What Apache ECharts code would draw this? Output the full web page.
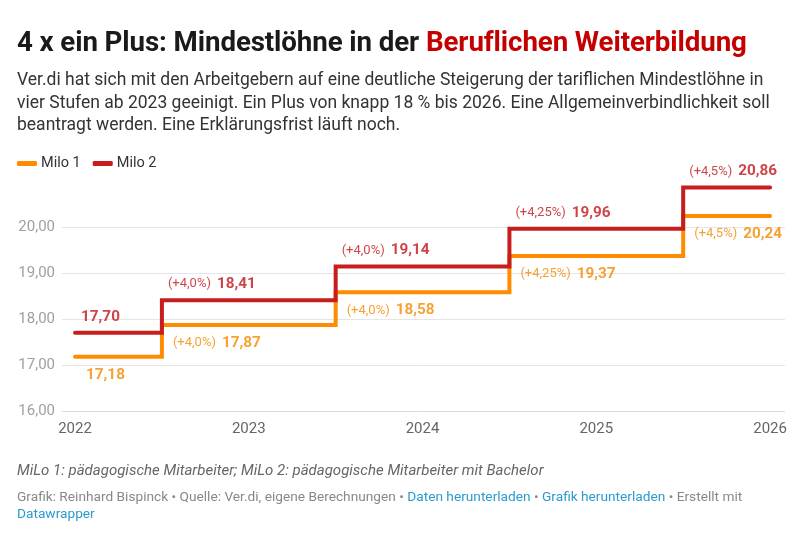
<!DOCTYPE html>
<html>
<head>
<meta charset="utf-8">
<script src="https://cdn.jsdelivr.net/npm/echarts@6/dist/echarts.min.js"></script>
<style>
  html, body { margin: 0; padding: 0; background: #fff; }
  body { width: 810px; height: 535px; position: relative; overflow: hidden; font-family: Roboto, "Noto Sans", sans-serif; }
  #chart { position: absolute; left: 0; top: 0; width: 810px; height: 535px; }
  .t { position: absolute; left: 17px; white-space: nowrap; }
  #title { top: 25px; font-size: 27.7px; font-weight: 700; color: #1a1a1a; line-height: 34px; letter-spacing: -0.1px; }
  #title span { color: #c40000; }
  #desc { top: 68px; font-size: 17.5px; color: #333; line-height: 22.5px; }
  #note { top: 461px; font-size: 15px; font-style: italic; color: #666; line-height: 19px; }
  #src { top: 488px; font-size: 13.7px; color: #888; line-height: 17px; }
  #src a { color: #2a9bcd; text-decoration: none; }
</style>
</head>
<body>
<div id="chart"></div>
<div class="t" id="title">4 x ein Plus: Mindestlöhne in der <span>Beruflichen Weiterbildung</span></div>
<div class="t" id="desc">Ver.di hat sich mit den Arbeitgebern auf eine deutliche Steigerung der tariflichen Mindestlöhne in<br>vier Stufen ab 2023 geeinigt. Ein Plus von knapp 18 % bis 2026. Eine Allgemeinverbindlichkeit soll<br>beantragt werden. Eine Erklärungsfrist läuft noch.</div>
<div class="t" id="note">MiLo 1: pädagogische Mitarbeiter; MiLo 2: pädagogische Mitarbeiter mit Bachelor</div>
<div class="t" id="src">Grafik: Reinhard Bispinck • Quelle: Ver.di, eigene Berechnungen • <a>Daten herunterladen</a> • <a>Grafik herunterladen</a> • Erstellt mit<br><a>Datawrapper</a></div>
<script>
const years = [2022, 2023, 2024, 2025, 2026];
const milo1 = [17.18, 17.87, 18.58, 19.37, 20.24];
const milo2 = [17.70, 18.41, 19.14, 19.96, 20.86];
const pct1 = ['', '(+4,0%)', '(+4,0%)', '(+4,25%)', '(+4,5%)'];
const pct2 = ['', '(+4,0%)', '(+4,0%)', '(+4,25%)', '(+4,5%)'];
const yTicks = [16, 17, 18, 19, 20];
const seriesNames = ['Milo 1', 'Milo 2'];

const ORANGE = '#ff8c00';
const RED = '#c71e1d';
const fmt = v => v.toFixed(2).replace('.', ',');

function labelData(vals, pcts) {
  return vals.map((v, i) => ({
    value: [i === 0 ? years[i] : years[i] - 0.5, v],
    pct: pcts[i]
  }));
}
function labelSeries(vals, pcts, color, pctColor, dx, dy) {
  return {
    type: 'scatter',
    data: labelData(vals, pcts),
    symbolSize: 0,
    silent: true,
    z: 5,
    label: {
      show: true,
      position: 'right',
      distance: 0,
      offset: [dx, dy],
      formatter: p => (p.data.pct ? '{p|' + p.data.pct + '}  ' : '') + '{v|' + fmt(p.data.value[1]) + '}',
      rich: {
        p: { fontSize: 13, color: pctColor, fontFamily: 'Roboto' },
        v: { fontSize: 15.3, fontWeight: 'bold', color: color, fontFamily: 'Roboto' }
      }
    },
    tooltip: { show: false }
  };
}

const chart = echarts.init(document.getElementById('chart'), null, { renderer: 'canvas' });
chart.setOption({
  animation: false,
  textStyle: { fontFamily: 'Roboto' },
  legend: {
    data: seriesNames,
    left: 12,
    top: 151,
    icon: 'roundRect',
    itemWidth: 20,
    itemHeight: 5,
    itemGap: 12,
    textStyle: { fontSize: 14.5, color: '#333', fontFamily: 'Roboto', padding: [0, 0, 0, -1] }
  },
  grid: { left: 62, right: 25, top: 181, bottom: 124, containLabel: false },
  xAxis: {
    type: 'value',
    min: 2021.925,
    max: 2026.086,
    axisLine: { show: false },
    axisTick: { show: false },
    splitLine: { show: false },
    axisLabel: {
      customValues: years,
      formatter: v => String(v),
      color: '#666',
      fontSize: 15,
      margin: 11,
      fontFamily: 'Roboto'
    }
  },
  yAxis: {
    type: 'value',
    min: 16,
    max: 21,
    interval: 1,
    axisLine: { show: false },
    axisTick: { show: false },
    axisLabel: {
      customValues: yTicks,
      formatter: v => fmt(v),
      color: '#a0a0a0',
      fontSize: 15,
      margin: 7,
      fontFamily: 'Roboto'
    },
    splitLine: {
      lineStyle: { color: ['#d9d9d9', '#e5e5e5', '#e5e5e5', '#e5e5e5', '#e5e5e5', 'rgba(0,0,0,0)'], width: 1 }
    }
  },
  series: [
    {
      name: seriesNames[0],
      type: 'line',
      step: 'middle',
      data: years.map((y, i) => [y, milo1[i]]),
      showSymbol: false,
      color: ORANGE,
      lineStyle: { width: 4, color: ORANGE, cap: 'round', join: 'miter' },
      z: 2
    },
    {
      name: seriesNames[1],
      type: 'line',
      step: 'middle',
      data: years.map((y, i) => [y, milo2[i]]),
      showSymbol: false,
      color: RED,
      lineStyle: { width: 4, color: RED, cap: 'round', join: 'miter' },
      z: 3
    },
    labelSeries(milo1, pct1, '#f28a00', '#f28a00', 11, 18),
    labelSeries(milo2, pct2, '#c0171c', '#c0171c', 6, -16)
  ]
});
</script>
</body>
</html>
